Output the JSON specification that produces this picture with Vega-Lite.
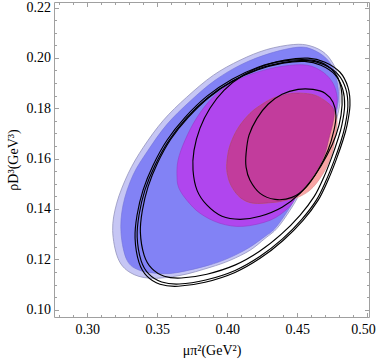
{
"$schema": "https://vega.github.io/schema/vega-lite/v6.json",
"width": 315, "height": 315,
"autosize": {"type": "none"},
"padding": {"left": 54, "top": 2, "right": 7, "bottom": 43},
"background": "white",
"config": {"view": {"stroke": "#a0a0a0", "strokeWidth": 1}},
"data": {"values": [
{"s":"A","i":1,"x":0.3181,"y":0.1315},{"s":"A","i":2,"x":0.3210,"y":0.1423},{"s":"A","i":3,"x":0.3293,"y":0.1542},{"s":"A","i":4,"x":0.3400,"y":0.1645},{"s":"A","i":5,"x":0.3543,"y":0.1752},{"s":"A","i":6,"x":0.3710,"y":0.1844},{"s":"A","i":7,"x":0.3900,"y":0.1931},{"s":"A","i":8,"x":0.4091,"y":0.1991},{"s":"A","i":9,"x":0.4281,"y":0.2033},{"s":"A","i":10,"x":0.4471,"y":0.2053},{"s":"A","i":11,"x":0.4591,"y":0.2048},{"s":"A","i":12,"x":0.4698,"y":0.2018},{"s":"A","i":13,"x":0.4769,"y":0.1963},{"s":"A","i":14,"x":0.4798,"y":0.1903},{"s":"A","i":15,"x":0.4805,"y":0.1832},{"s":"A","i":16,"x":0.4791,"y":0.1780},{"s":"A","i":17,"x":0.4762,"y":0.1721},{"s":"A","i":18,"x":0.4698,"y":0.1633},{"s":"A","i":19,"x":0.4591,"y":0.1542},{"s":"A","i":20,"x":0.4519,"y":0.1462},{"s":"A","i":21,"x":0.4448,"y":0.1395},{"s":"A","i":22,"x":0.4355,"y":0.1323},{"s":"A","i":23,"x":0.4269,"y":0.1283},{"s":"A","i":24,"x":0.4162,"y":0.1236},{"s":"A","i":25,"x":0.4019,"y":0.1196},{"s":"A","i":26,"x":0.3876,"y":0.1168},{"s":"A","i":27,"x":0.3662,"y":0.1136},{"s":"A","i":28,"x":0.3448,"y":0.1125},{"s":"A","i":29,"x":0.3305,"y":0.1148},{"s":"A","i":30,"x":0.3219,"y":0.1204},
{"s":"B","i":1,"x":0.3241,"y":0.1303},{"s":"B","i":2,"x":0.3255,"y":0.1415},{"s":"B","i":3,"x":0.3326,"y":0.1534},{"s":"B","i":4,"x":0.3434,"y":0.1633},{"s":"B","i":5,"x":0.3569,"y":0.1736},{"s":"B","i":6,"x":0.3734,"y":0.1828},{"s":"B","i":7,"x":0.3912,"y":0.1911},{"s":"B","i":8,"x":0.4105,"y":0.1975},{"s":"B","i":9,"x":0.4305,"y":0.2018},{"s":"B","i":10,"x":0.4498,"y":0.2042},{"s":"B","i":11,"x":0.4605,"y":0.2034},{"s":"B","i":12,"x":0.4705,"y":0.1999},{"s":"B","i":13,"x":0.4762,"y":0.1951},{"s":"B","i":14,"x":0.4791,"y":0.1883},{"s":"B","i":15,"x":0.4791,"y":0.1820},{"s":"B","i":16,"x":0.4755,"y":0.1740},{"s":"B","i":17,"x":0.4684,"y":0.1645},{"s":"B","i":18,"x":0.4576,"y":0.1542},{"s":"B","i":19,"x":0.4505,"y":0.1462},{"s":"B","i":20,"x":0.4434,"y":0.1395},{"s":"B","i":21,"x":0.4341,"y":0.1323},{"s":"B","i":22,"x":0.4269,"y":0.1291},{"s":"B","i":23,"x":0.4148,"y":0.1244},{"s":"B","i":24,"x":0.4005,"y":0.1204},{"s":"B","i":25,"x":0.3862,"y":0.1176},{"s":"B","i":26,"x":0.3648,"y":0.1148},{"s":"B","i":27,"x":0.3519,"y":0.1144},{"s":"B","i":28,"x":0.3376,"y":0.1156},{"s":"B","i":29,"x":0.3284,"y":0.1196},
{"s":"C","i":1,"x":0.3641,"y":0.1526},{"s":"C","i":2,"x":0.3648,"y":0.1593},{"s":"C","i":3,"x":0.3698,"y":0.1673},{"s":"C","i":4,"x":0.3784,"y":0.1764},{"s":"C","i":5,"x":0.3898,"y":0.1844},{"s":"C","i":6,"x":0.4041,"y":0.1903},{"s":"C","i":7,"x":0.4212,"y":0.1943},{"s":"C","i":8,"x":0.4398,"y":0.1967},{"s":"C","i":9,"x":0.4569,"y":0.1971},{"s":"C","i":10,"x":0.4684,"y":0.1943},{"s":"C","i":11,"x":0.4755,"y":0.1899},{"s":"C","i":12,"x":0.4784,"y":0.1844},{"s":"C","i":13,"x":0.4776,"y":0.1792},{"s":"C","i":14,"x":0.4755,"y":0.1744},{"s":"C","i":15,"x":0.4726,"y":0.1681},{"s":"C","i":16,"x":0.4698,"y":0.1621},{"s":"C","i":17,"x":0.4641,"y":0.1554},{"s":"C","i":18,"x":0.4555,"y":0.1486},{"s":"C","i":19,"x":0.4491,"y":0.1446},{"s":"C","i":20,"x":0.4434,"y":0.1403},{"s":"C","i":21,"x":0.4305,"y":0.1355},{"s":"C","i":22,"x":0.4112,"y":0.1331},{"s":"C","i":23,"x":0.3948,"y":0.1343},{"s":"C","i":24,"x":0.3805,"y":0.1383},{"s":"C","i":25,"x":0.3712,"y":0.1434},{"s":"C","i":26,"x":0.3655,"y":0.1482},
{"s":"D","i":1,"x":0.3998,"y":0.1593},{"s":"D","i":2,"x":0.4019,"y":0.1653},{"s":"D","i":3,"x":0.4076,"y":0.1721},{"s":"D","i":4,"x":0.4162,"y":0.1780},{"s":"D","i":5,"x":0.4248,"y":0.1816},{"s":"D","i":6,"x":0.4326,"y":0.1840},{"s":"D","i":7,"x":0.4426,"y":0.1856},{"s":"D","i":8,"x":0.4519,"y":0.1860},{"s":"D","i":9,"x":0.4626,"y":0.1852},{"s":"D","i":10,"x":0.4712,"y":0.1824},{"s":"D","i":11,"x":0.4762,"y":0.1792},{"s":"D","i":12,"x":0.4784,"y":0.1744},{"s":"D","i":13,"x":0.4769,"y":0.1681},{"s":"D","i":14,"x":0.4748,"y":0.1621},{"s":"D","i":15,"x":0.4698,"y":0.1554},{"s":"D","i":16,"x":0.4612,"y":0.1486},{"s":"D","i":17,"x":0.4519,"y":0.1450},{"s":"D","i":18,"x":0.4412,"y":0.1434},{"s":"D","i":19,"x":0.4326,"y":0.1426},{"s":"D","i":20,"x":0.4183,"y":0.1423},{"s":"D","i":21,"x":0.4091,"y":0.1446},{"s":"D","i":22,"x":0.4026,"y":0.1494},{"s":"D","i":23,"x":0.3998,"y":0.1546},
{"s":"E","i":1,"x":0.3998,"y":0.1593},{"s":"E","i":2,"x":0.4019,"y":0.1653},{"s":"E","i":3,"x":0.4076,"y":0.1721},{"s":"E","i":4,"x":0.4162,"y":0.1780},{"s":"E","i":5,"x":0.4248,"y":0.1816},{"s":"E","i":6,"x":0.4326,"y":0.1840},{"s":"E","i":7,"x":0.4426,"y":0.1856},{"s":"E","i":8,"x":0.4519,"y":0.1860},{"s":"E","i":9,"x":0.4626,"y":0.1852},{"s":"E","i":10,"x":0.4712,"y":0.1824},{"s":"E","i":11,"x":0.4762,"y":0.1792},{"s":"E","i":12,"x":0.4755,"y":0.1744},{"s":"E","i":13,"x":0.4726,"y":0.1681},{"s":"E","i":14,"x":0.4698,"y":0.1621},{"s":"E","i":15,"x":0.4641,"y":0.1554},{"s":"E","i":16,"x":0.4555,"y":0.1486},{"s":"E","i":17,"x":0.4498,"y":0.1450},{"s":"E","i":18,"x":0.4412,"y":0.1434},{"s":"E","i":19,"x":0.4326,"y":0.1426},{"s":"E","i":20,"x":0.4183,"y":0.1423},{"s":"E","i":21,"x":0.4091,"y":0.1446},{"s":"E","i":22,"x":0.4026,"y":0.1494},{"s":"E","i":23,"x":0.3998,"y":0.1546},
{"s":"L1","i":1,"x":0.3341,"y":0.1284},{"s":"L1","i":2,"x":0.3355,"y":0.1375},{"s":"L1","i":3,"x":0.3398,"y":0.1475},{"s":"L1","i":4,"x":0.3469,"y":0.1573},{"s":"L1","i":5,"x":0.3569,"y":0.1673},{"s":"L1","i":6,"x":0.3698,"y":0.1764},{"s":"L1","i":7,"x":0.3855,"y":0.1848},{"s":"L1","i":8,"x":0.4034,"y":0.1915},{"s":"L1","i":9,"x":0.4219,"y":0.1963},{"s":"L1","i":10,"x":0.4412,"y":0.1991},{"s":"L1","i":11,"x":0.4576,"y":0.1999},{"s":"L1","i":12,"x":0.4698,"y":0.1983},{"s":"L1","i":13,"x":0.4805,"y":0.1943},{"s":"L1","i":14,"x":0.4862,"y":0.1883},{"s":"L1","i":15,"x":0.4876,"y":0.1812},{"s":"L1","i":16,"x":0.4855,"y":0.1732},{"s":"L1","i":17,"x":0.4826,"y":0.1673},{"s":"L1","i":18,"x":0.4776,"y":0.1593},{"s":"L1","i":19,"x":0.4719,"y":0.1514},{"s":"L1","i":20,"x":0.4648,"y":0.1434},{"s":"L1","i":21,"x":0.4541,"y":0.1355},{"s":"L1","i":22,"x":0.4398,"y":0.1275},{"s":"L1","i":23,"x":0.4234,"y":0.1204},{"s":"L1","i":24,"x":0.4055,"y":0.1148},{"s":"L1","i":25,"x":0.3841,"y":0.1109},{"s":"L1","i":26,"x":0.3648,"y":0.1093},{"s":"L1","i":27,"x":0.3519,"y":0.1101},{"s":"L1","i":28,"x":0.3426,"y":0.1133},{"s":"L1","i":29,"x":0.3369,"y":0.1188},
{"s":"L2","i":1,"x":0.3356,"y":0.1289},{"s":"L2","i":2,"x":0.3370,"y":0.1378},{"s":"L2","i":3,"x":0.3412,"y":0.1476},{"s":"L2","i":4,"x":0.3482,"y":0.1572},{"s":"L2","i":5,"x":0.3580,"y":0.1670},{"s":"L2","i":6,"x":0.3706,"y":0.1760},{"s":"L2","i":7,"x":0.3860,"y":0.1842},{"s":"L2","i":8,"x":0.4036,"y":0.1908},{"s":"L2","i":9,"x":0.4217,"y":0.1955},{"s":"L2","i":10,"x":0.4406,"y":0.1982},{"s":"L2","i":11,"x":0.4567,"y":0.1990},{"s":"L2","i":12,"x":0.4686,"y":0.1974},{"s":"L2","i":13,"x":0.4791,"y":0.1935},{"s":"L2","i":14,"x":0.4847,"y":0.1876},{"s":"L2","i":15,"x":0.4861,"y":0.1807},{"s":"L2","i":16,"x":0.4840,"y":0.1728},{"s":"L2","i":17,"x":0.4812,"y":0.1670},{"s":"L2","i":18,"x":0.4763,"y":0.1592},{"s":"L2","i":19,"x":0.4707,"y":0.1515},{"s":"L2","i":20,"x":0.4637,"y":0.1436},{"s":"L2","i":21,"x":0.4532,"y":0.1359},{"s":"L2","i":22,"x":0.4392,"y":0.1280},{"s":"L2","i":23,"x":0.4232,"y":0.1211},{"s":"L2","i":24,"x":0.4056,"y":0.1156},{"s":"L2","i":25,"x":0.3846,"y":0.1118},{"s":"L2","i":26,"x":0.3657,"y":0.1102},{"s":"L2","i":27,"x":0.3531,"y":0.1110},{"s":"L2","i":28,"x":0.3440,"y":0.1141},{"s":"L2","i":29,"x":0.3384,"y":0.1195},
{"s":"L3","i":1,"x":0.3379,"y":0.1307},{"s":"L3","i":2,"x":0.3393,"y":0.1394},{"s":"L3","i":3,"x":0.3434,"y":0.1489},{"s":"L3","i":4,"x":0.3501,"y":0.1582},{"s":"L3","i":5,"x":0.3596,"y":0.1677},{"s":"L3","i":6,"x":0.3719,"y":0.1763},{"s":"L3","i":7,"x":0.3868,"y":0.1843},{"s":"L3","i":8,"x":0.4038,"y":0.1907},{"s":"L3","i":9,"x":0.4214,"y":0.1952},{"s":"L3","i":10,"x":0.4397,"y":0.1979},{"s":"L3","i":11,"x":0.4553,"y":0.1986},{"s":"L3","i":12,"x":0.4669,"y":0.1971},{"s":"L3","i":13,"x":0.4770,"y":0.1933},{"s":"L3","i":14,"x":0.4824,"y":0.1876},{"s":"L3","i":15,"x":0.4838,"y":0.1809},{"s":"L3","i":16,"x":0.4818,"y":0.1733},{"s":"L3","i":17,"x":0.4790,"y":0.1677},{"s":"L3","i":18,"x":0.4743,"y":0.1601},{"s":"L3","i":19,"x":0.4689,"y":0.1526},{"s":"L3","i":20,"x":0.4621,"y":0.1450},{"s":"L3","i":21,"x":0.4519,"y":0.1375},{"s":"L3","i":22,"x":0.4384,"y":0.1299},{"s":"L3","i":23,"x":0.4228,"y":0.1231},{"s":"L3","i":24,"x":0.4058,"y":0.1178},{"s":"L3","i":25,"x":0.3854,"y":0.1141},{"s":"L3","i":26,"x":0.3671,"y":0.1126},{"s":"L3","i":27,"x":0.3549,"y":0.1133},{"s":"L3","i":28,"x":0.3460,"y":0.1164},{"s":"L3","i":29,"x":0.3406,"y":0.1216},
{"s":"M","i":1,"x":0.3755,"y":0.1554},{"s":"M","i":2,"x":0.3762,"y":0.1633},{"s":"M","i":3,"x":0.3805,"y":0.1721},{"s":"M","i":4,"x":0.3876,"y":0.1800},{"s":"M","i":5,"x":0.3976,"y":0.1871},{"s":"M","i":6,"x":0.4112,"y":0.1931},{"s":"M","i":7,"x":0.4269,"y":0.1971},{"s":"M","i":8,"x":0.4448,"y":0.1991},{"s":"M","i":9,"x":0.4605,"y":0.1991},{"s":"M","i":10,"x":0.4719,"y":0.1967},{"s":"M","i":11,"x":0.4791,"y":0.1919},{"s":"M","i":12,"x":0.4819,"y":0.1852},{"s":"M","i":13,"x":0.4812,"y":0.1772},{"s":"M","i":14,"x":0.4776,"y":0.1693},{"s":"M","i":15,"x":0.4712,"y":0.1613},{"s":"M","i":16,"x":0.4626,"y":0.1534},{"s":"M","i":17,"x":0.4519,"y":0.1462},{"s":"M","i":18,"x":0.4391,"y":0.1407},{"s":"M","i":19,"x":0.4234,"y":0.1371},{"s":"M","i":20,"x":0.4091,"y":0.1359},{"s":"M","i":21,"x":0.3962,"y":0.1371},{"s":"M","i":22,"x":0.3855,"y":0.1415},{"s":"M","i":23,"x":0.3784,"y":0.1474},
{"s":"S","i":1,"x":0.4134,"y":0.1621},{"s":"S","i":2,"x":0.4155,"y":0.1693},{"s":"S","i":3,"x":0.4212,"y":0.1760},{"s":"S","i":4,"x":0.4291,"y":0.1816},{"s":"S","i":5,"x":0.4391,"y":0.1856},{"s":"S","i":6,"x":0.4505,"y":0.1875},{"s":"S","i":7,"x":0.4612,"y":0.1875},{"s":"S","i":8,"x":0.4698,"y":0.1860},{"s":"S","i":9,"x":0.4755,"y":0.1824},{"s":"S","i":10,"x":0.4776,"y":0.1772},{"s":"S","i":11,"x":0.4762,"y":0.1713},{"s":"S","i":12,"x":0.4719,"y":0.1633},{"s":"S","i":13,"x":0.4648,"y":0.1554},{"s":"S","i":14,"x":0.4562,"y":0.1486},{"s":"S","i":15,"x":0.4462,"y":0.1446},{"s":"S","i":16,"x":0.4341,"y":0.1438},{"s":"S","i":17,"x":0.4234,"y":0.1462},{"s":"S","i":18,"x":0.4162,"y":0.1514},{"s":"S","i":19,"x":0.4134,"y":0.1566}
]},
"encoding": {
  "x": {"field": "x", "type": "quantitative", "scale": {"domain": [0.2762, 0.5012], "nice": false, "zero": false}, "axis": null},
  "y": {"field": "y", "type": "quantitative", "scale": {"domain": [0.0971, 0.2222], "nice": false, "zero": false}, "axis": null},
  "order": {"field": "i", "type": "quantitative"}
},
"resolve": {"axis": {"x": "independent", "y": "independent"}},
"layer": [
  {"transform": [{"filter": "datum.s === 'A'"}], "mark": {"type": "line", "interpolate": "cardinal-closed", "fill": "#c6c6f4", "stroke": "#9494bc", "strokeWidth": 0.8}},
  {"transform": [{"filter": "datum.s === 'B'"}], "mark": {"type": "line", "interpolate": "cardinal-closed", "fill": "#8282f5", "stroke": "#7272d8", "strokeWidth": 0.6}},
  {"transform": [{"filter": "datum.s === 'C'"}], "mark": {"type": "line", "interpolate": "cardinal-closed", "fill": "#b046ee", "stroke": "#9838c8", "strokeWidth": 0.6}},
  {"transform": [{"filter": "datum.s === 'D'"}], "mark": {"type": "line", "interpolate": "cardinal-closed", "fill": "#f8a4a4", "stroke": "#d88888", "strokeWidth": 0.6}},
  {"transform": [{"filter": "datum.s === 'E'"}], "mark": {"type": "line", "interpolate": "cardinal-closed", "fill": "#c23c9c", "stroke": "#a03080", "strokeWidth": 0.6},
   "encoding": {
     "x": {"field": "x", "type": "quantitative", "scale": {"domain": [0.2762, 0.5012], "nice": false, "zero": false},
       "axis": {"orient": "top", "values": [0.28,0.29,0.30,0.31,0.32,0.33,0.34,0.35,0.36,0.37,0.38,0.39,0.40,0.41,0.42,0.43,0.44,0.45,0.46,0.47,0.48,0.49,0.50], "labels": false, "title": null, "domain": false, "grid": false, "tickColor": "#a0a0a0",
         "tickSize": {"condition": {"test": "abs(datum.value*20 - round(datum.value*20)) < 0.01", "value": -4.5}, "value": -2.5}}},
     "y": {"field": "y", "type": "quantitative", "scale": {"domain": [0.0971, 0.2222], "nice": false, "zero": false},
       "axis": {"orient": "right", "values": [0.100,0.105,0.110,0.115,0.120,0.125,0.130,0.135,0.140,0.145,0.150,0.155,0.160,0.165,0.170,0.175,0.180,0.185,0.190,0.195,0.200,0.205,0.210,0.215,0.220], "labels": false, "title": null, "domain": false, "grid": false, "tickColor": "#a0a0a0",
         "tickSize": {"condition": {"test": "abs(datum.value*50 - round(datum.value*50)) < 0.01", "value": -4.5}, "value": -2.5}}}
   }},
  {"transform": [{"filter": "indexof(['L1','L2','L3','M','S'], datum.s) >= 0"}], "mark": {"type": "line", "interpolate": "cardinal-closed", "stroke": "black", "strokeWidth": 1.15},
   "encoding": {
     "detail": {"field": "s"},
     "x": {"field": "x", "type": "quantitative", "scale": {"domain": [0.2762, 0.5012], "nice": false, "zero": false},
       "axis": {"orient": "bottom", "values": [0.28,0.29,0.30,0.31,0.32,0.33,0.34,0.35,0.36,0.37,0.38,0.39,0.40,0.41,0.42,0.43,0.44,0.45,0.46,0.47,0.48,0.49,0.50], "format": ".2f", "labelExpr": "abs(datum.value*20 - round(datum.value*20)) < 0.01 ? datum.label : ''", "labelFlush": 3, "labelFlushOffset": 8, "labelOverlap": false, "domain": false, "grid": false, "tickColor": "#a0a0a0",
         "tickSize": {"condition": {"test": "abs(datum.value*20 - round(datum.value*20)) < 0.01", "value": -4.5}, "value": -2.5},
         "labelFont": "Liberation Serif", "labelFontSize": 14, "labelColor": "black", "labelPadding": 10,
         "title": "μπ²(GeV²)", "titleFont": "Liberation Serif", "titleFontSize": 14, "titleFontWeight": "normal", "titleColor": "black", "titlePadding": 5}},
     "y": {"field": "y", "type": "quantitative", "scale": {"domain": [0.0971, 0.2222], "nice": false, "zero": false},
       "axis": {"orient": "left", "values": [0.100,0.105,0.110,0.115,0.120,0.125,0.130,0.135,0.140,0.145,0.150,0.155,0.160,0.165,0.170,0.175,0.180,0.185,0.190,0.195,0.200,0.205,0.210,0.215,0.220], "format": ".2f", "labelExpr": "abs(datum.value*50 - round(datum.value*50)) < 0.01 ? datum.label : ''", "labelFlush": false, "labelOverlap": false, "domain": false, "grid": false, "tickColor": "#a0a0a0",
         "tickSize": {"condition": {"test": "abs(datum.value*50 - round(datum.value*50)) < 0.01", "value": -4.5}, "value": -2.5},
         "labelFont": "Liberation Serif", "labelFontSize": 14, "labelColor": "black", "labelPadding": 8,
         "title": "ρD³(GeV³)", "titleFont": "Liberation Serif", "titleFontSize": 14, "titleFontWeight": "normal", "titleColor": "black", "titlePadding": 6}}
   }}
]
}
